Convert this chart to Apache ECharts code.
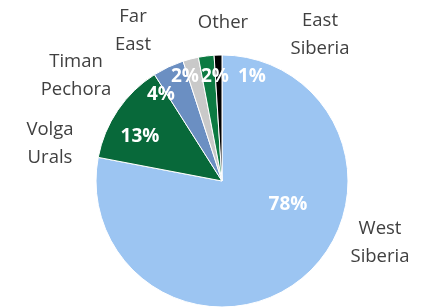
<!DOCTYPE html>
<html><head><meta charset="utf-8">
<script src="https://cdn.jsdelivr.net/npm/echarts@6/dist/echarts.min.js"></script>
<style>html,body{margin:0;padding:0;background:#fff}#c{width:421px;height:308px}</style>
</head><body><div id="c"></div>
<script>
const categories = ['West\nSiberia', 'Volga\nUrals', 'Timan\nPechora', 'Far\nEast', 'Other', 'East\nSiberia'];
const values = [78, 13, 4, 2, 2, 1];
const colors = ['#9CC5F2', '#08693A', '#6B8FC2', '#C9C9C9', '#0C7A42', '#000000'];
// label layout (pixel positions, separate from data)
const pctPos = [[288,205],[140,137],[161,95],[185,77],[215,77],[252,77]];
const catPos = [[380,243],[50,144],[76,76],[133,31],[223,23],[320,35]];

const chart = echarts.init(document.getElementById('c'), null, {renderer: 'canvas'});
const data = categories.map((n, i) => ({name: n, value: values[i], itemStyle: {color: colors[i]}}));
chart.setOption({
  animation: false,
  series: [
    {
      type: 'pie', center: [222, 181], radius: [0, 126], startAngle: 90, clockwise: true,
      silent: true,
      itemStyle: {borderColor: '#fff', borderWidth: 1},
      label: {show: true, position: 'inside', formatter: p => p.value + '%',
        color: '#fff', fontFamily: 'Open Sans', fontWeight: 'bold', fontSize: 19},
      labelLayout: p => ({x: pctPos[p.dataIndex][0], y: pctPos[p.dataIndex][1], align: 'center', verticalAlign: 'middle'}),
      data: data
    },
    {
      type: 'pie', center: [222, 181], radius: [0, 126], startAngle: 90, clockwise: true,
      silent: true,
      itemStyle: {color: 'transparent', borderWidth: 0},
      label: {show: true, position: 'outside', formatter: p => p.name, overflow: 'none', width: 200,
        color: '#404040', fontFamily: 'Open Sans', fontSize: 18.5, lineHeight: 28, align: 'center'},
      labelLine: {show: false},
      labelLayout: p => ({x: catPos[p.dataIndex][0], y: catPos[p.dataIndex][1], align: 'center', verticalAlign: 'middle', hideOverlap: false}),
      data: categories.map((n, i) => ({name: n, value: values[i]}))
    }
  ]
});
</script></body></html>
